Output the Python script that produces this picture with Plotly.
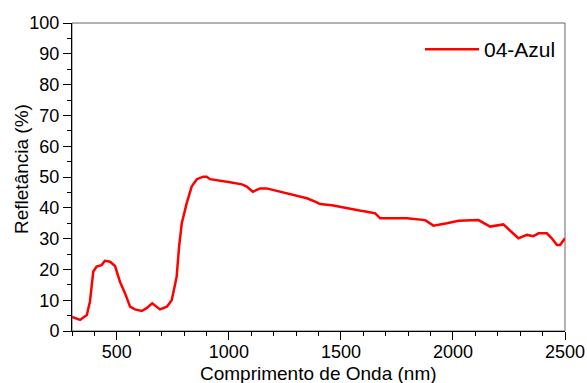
import plotly.graph_objects as go

# Reflectance spectrum of sample 04-Azul
wavelength_nm = [300, 336, 366, 380, 395, 410, 432, 447, 470, 492, 514, 537, 559, 581,
                 611, 633, 658, 693, 723, 745, 767, 778, 790, 812, 834, 857, 886, 901,
                 916, 968, 1005, 1058, 1080, 1107, 1139, 1169, 1214, 1288, 1348, 1385,
                 1407, 1460, 1526, 1583, 1616, 1653, 1675, 1742, 1794, 1876, 1913, 1973,
                 2025, 2114, 2136, 2166, 2225, 2263, 2292, 2330, 2359, 2382, 2419, 2441,
                 2464, 2478, 2500]
reflectance = [4.6, 3.6, 5.2, 9.5, 19.3, 20.9, 21.4, 22.8, 22.5, 21.1, 16.0, 12.2, 7.9, 7.0,
               6.5, 7.4, 9.0, 7.0, 7.9, 10.0, 17.6, 27.5, 35.0, 41.5, 46.9, 49.3, 50.1, 50.1,
               49.3, 48.8, 48.3, 47.6, 46.9, 45.2, 46.3, 46.3, 45.5, 44.2, 43.1, 42.0,
               41.2, 40.8, 39.8, 39.1, 38.7, 38.2, 36.6, 36.6, 36.6, 36.0, 34.2, 35.0,
               35.8, 36.0, 35.0, 33.9, 34.6, 32.2, 30.1, 31.2, 30.8, 31.7, 31.7, 30.1,
               27.9, 27.9, 30.1]
series_name = "04-Azul"
x_title = "Comprimento de Onda (nm)"
y_title = "Refletância (%)"

FONT = "Liberation Sans, Arial, sans-serif"
W, H = 587, 383
L, R, T, B = 72, 22, 23, 52
plot_mid_y = (T + (H - B)) / 2  # pixel row of the plot-area centre

fig = go.Figure()
fig.add_trace(go.Scatter(
    x=wavelength_nm, y=reflectance, mode="lines", name=series_name,
    line=dict(color="#ff0000", width=2.5),
))

# gray frame on top/right; black axis lines cover left/bottom edges
fig.add_shape(type="rect", xref="paper", yref="paper", x0=0, y0=0, x1=1, y1=1,
              line=dict(color="#666666", width=1), layer="below")

axis_common = dict(
    showgrid=False, zeroline=False, showline=True, linecolor="#000000", linewidth=1,
    ticks="outside", ticklen=8, tickwidth=1, tickcolor="#000000",
    tickfont=dict(family=FONT, size=18, color="#000000"),
    automargin=False,
)

fig.update_xaxes(
    range=[300, 2500], tick0=0, dtick=500, ticklabelstandoff=-4,
    minor=dict(ticks="outside", ticklen=4, tickcolor="#000000", dtick=100, tick0=0),
    **axis_common,
)
fig.update_yaxes(
    range=[0, 100], tick0=0, dtick=10,
    minor=dict(ticks="outside", ticklen=4, tickcolor="#000000", dtick=5, tick0=0),
    **axis_common,
)

# axis titles placed as annotations in pixel offsets from the plot area
title_font = dict(family=FONT, size=19, color="#000000")
fig.add_annotation(text=x_title, xref="paper", yref="paper", x=0.5, y=0,
                   yshift=-(373 - (H - B)), xanchor="center", yanchor="middle",
                   showarrow=False, font=title_font)
fig.add_annotation(text=y_title, xref="paper", yref="paper", x=0, y=0.5,
                   xshift=-(L - 21), yshift=plot_mid_y - 169,
                   xanchor="center", yanchor="middle", textangle=-90,
                   showarrow=False, font=title_font)

fig.update_layout(
    width=W, height=H,
    margin=dict(l=L, r=R, t=T, b=B, autoexpand=False),
    paper_bgcolor="white", plot_bgcolor="white",
    showlegend=True,
    legend=dict(
        x=(420 - L) / 493, y=(331 - 29) / 308, xanchor="left", yanchor="top",
        bgcolor="rgba(0,0,0,0)", borderwidth=0, itemwidth=54,
        font=dict(family=FONT, size=21, color="#000000"),
    ),
)

fig.write_html("out.html")
